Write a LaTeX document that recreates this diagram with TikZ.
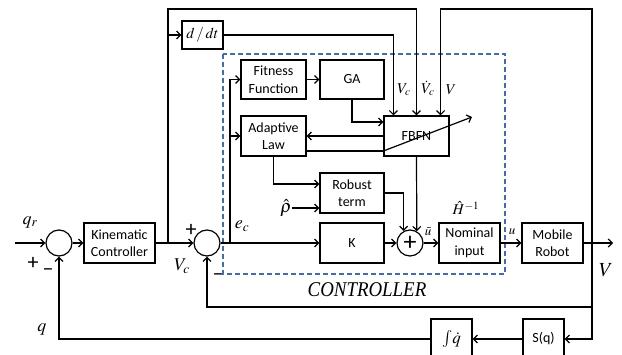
\documentclass[tikz,border=0pt]{standalone}
\usepackage{mathptmx}
\usepackage{fontspec}
\setmainfont{Carlito}
\newfontfamily\tms{Liberation Serif}
\usetikzlibrary{arrows.meta}
\definecolor{dashblue}{RGB}{72,108,165}
\begin{document}
\begin{tikzpicture}[x=1pt,y=-1pt,
  line width=1.2pt,
  >={Straight Barb[length=4pt,width=8pt]},
  blk/.style={draw, rectangle, inner sep=0pt, align=center, font=\fontsize{14}{17.5}\selectfont},
  sumc/.style={draw, circle, minimum size=26pt, inner sep=0pt},
  lbl/.style={font=\fontsize{18}{18}\selectfont, inner sep=0pt},
  slbl/.style={font=\fontsize{15}{15}\selectfont, inner sep=0pt},
  sgn/.style={font=\fontsize{22}{22}\selectfont, inner sep=0pt}]
\useasboundingbox (0,0) rectangle (622,355);

% controller frame
\draw[dashblue, dash pattern=on 5pt off 3pt, line width=1.1pt] (223,54) rectangle (505,274);

% blocks
\node[blk, minimum width=41pt, minimum height=28pt] (dd) at (202.5,35) {\fontsize{15}{15}\selectfont$d\,/\,dt$};
\node[blk, minimum width=65pt, minimum height=39pt] (ff) at (273.5,79.5) {Fitness\\Function};
\node[blk, minimum width=64pt, minimum height=39pt] (ga) at (352,79.5) {GA};
\node[blk, minimum width=65pt, minimum height=40pt] (al) at (273.5,136) {Adaptive\\Law};
\node[blk, minimum width=65pt, minimum height=40pt] (fbfn) at (416.5,136) {FBFN};
\node[blk, minimum width=64pt, minimum height=40pt] (rt) at (352,193) {Robust\\term};
\node[blk, minimum width=64pt, minimum height=40pt] (kk) at (352,243) {K};
\node[blk, minimum width=61pt, minimum height=40pt] (ni) at (469.5,243) {Nominal\\input};
\node[blk, minimum width=61pt, minimum height=40pt] (mr) at (552.5,243) {Mobile\\Robot};
\node[blk, minimum width=71pt, minimum height=40pt] (kc) at (119.5,243) {Kinematic\\Controller};
\node[blk, minimum width=41pt, minimum height=40pt] (sq) at (543.5,339) {S(q)};
\node[blk, minimum width=41pt, minimum height=40pt] (iq) at (451.5,339) {\fontsize{17}{17}\selectfont$\int\!\dot q$};

\node[sumc] (s1) at (59,243) {};
\node[sumc] (s2) at (207,243) {};
\node[sumc, font=\fontsize{26}{26}\selectfont] (s3) at (410,243) {+};

% coordinates
\coordinate (qin) at (15,243);
\coordinate (j1) at (168,243);
\coordinate (t1) at (168,9);
\coordinate (j2) at (230,243);
\coordinate (fin1) at ([xshift=10pt]fbfn.north west);
\coordinate (fin3) at ([xshift=-9pt]fbfn.north east);
\coordinate (rtop) at (592,9);
\coordinate (rmid) at (592,307);
\coordinate (yout) at (613,243);
\coordinate (dg) at (472,117);

% connectors
\draw[->] (qin) -- (s1);
\draw[->] (s1) -- (kc);
\draw[->] (kc) -- (s2);
\draw[->] (j1) -- (t1) -| (fbfn.north);
\draw[->] (j1 |- dd) -- (dd);
\draw[->] (dd) -| (fin1);
\draw[->] (mr) -- (yout);
\draw[->] (mr.east -| rtop) -- (rtop) -| (fin3);
\draw[->] (mr.east -| rtop) |- (sq);
\draw[->] (rmid) -| (s2.south);
\draw[->] (sq) -- (iq);
\draw[->] (iq) -| (s1.south);
\draw[->] (s2) -- (kk);
\draw[->] (j2) |- (ff);
\draw[->] (j2 |- al) -- (al);
\draw[->] (ff) -- (ga);
\draw[->] (ga.south) |- ([yshift=14pt]fbfn.west);
\draw[->] (fbfn.west) -- (al.east);
\draw ([yshift=-15pt]al.east) -- ([yshift=-15pt]fbfn.west);
\draw[->] ([yshift=-15pt]fbfn.west) -- (dg);
\draw[->] (al.south) |- ([yshift=9pt]rt.west);
\node[lbl] (rho) at (286,208) {$\hat{\rho}$};
\draw[->] (rho.east) -- (rho.east -| rt.west);
\draw[->] (rt.east) -| (s3.118);
\draw[->] (fbfn.south) -- (s3.60);
\draw[->] (kk) -- (s3);
\draw[->] (s3) -- (ni);
\draw[->] (ni) -- (mr);

% labels
\node[lbl] (lqr) at (30,222) {$q_r$};
\node[sgn] (p1) at (33,263) {+};
\node[sgn] (m1) at (48,272) {\textendash};
\node[lbl] (lvc) at (182,266) {$V_c$};
\node[sgn] (p2) at (191,230) {+};
\node[sgn] (m2) at (218,277) {\textendash};
\node[lbl] (lec) at (242,226) {$e_c$};
\node[slbl] (lv1) at (404,90) {$V_c$};
\node[slbl] (lv2) at (428,88) {$\dot V_c$};
\node[slbl] (lv3) at (451,90) {$V$};
\node[font=\fontsize{13}{13}\selectfont, inner sep=0pt] (lub) at (428,232) {$\bar u$};
\node[font=\fontsize{13}{13}\selectfont, inner sep=0pt] (lu) at (512,232) {$u$};
\node[font=\fontsize{15}{15}\selectfont, inner sep=0pt] (lh) at (466,208) {$\hat H^{-1}$};
\node[font=\fontsize{20}{20}\selectfont, inner sep=0pt] (lvo) at (606,270) {$V$};
\node[lbl] (lq) at (42,329) {$q$};
\node[inner sep=0pt] (ctl) at (367,290) {\scalebox{0.9}[1]{\tms\itshape\fontsize{21}{21}\selectfont CONTROLLER}};
\end{tikzpicture}
\end{document}
